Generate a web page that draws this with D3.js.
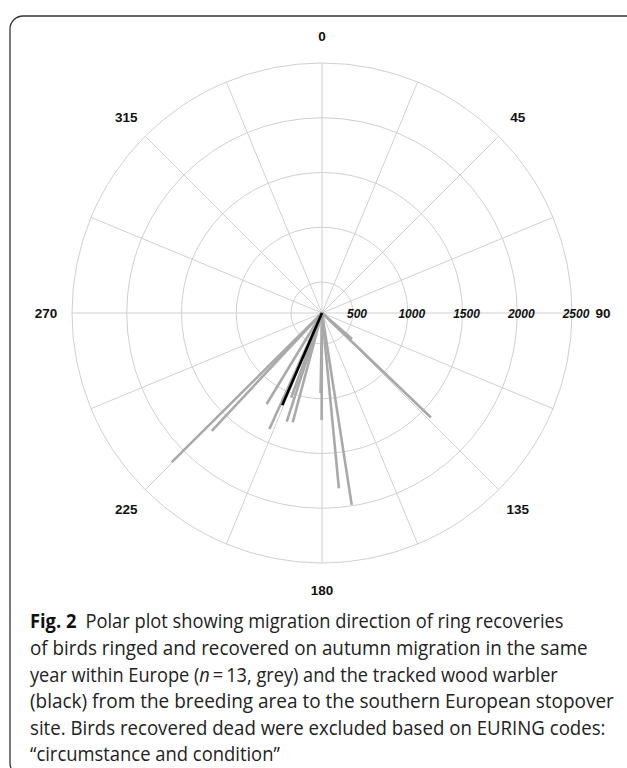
<!DOCTYPE html>
<html>
<head>
<meta charset="utf-8">
<script src="https://cdn.jsdelivr.net/npm/d3@7"></script>
<style>
  html, body { margin: 0; padding: 0; background: #fff; }
  svg { display: block; }
</style>
</head>
<body>
<svg id="chart" width="627" height="768"></svg>
<script>
// ring recoveries (grey): bearing in degrees, distance in km
const bearings  = [225.2, 223.1, 211.3, 204.4, 198, 195, 180.2, 181, 174.5, 171.2, 133.8, 131, 200];
const distances = [2150, 1690, 1190, 1380, 1260, 1250, 1195, 950, 1825, 1990, 1595, 580, 1040];
// tracked wood warbler (black)
const trackBearing = [203.3];
const trackDistance = [1135];

const ringTicks = [500, 1000, 1500, 2000, 2500];
const angleTicks = [0, 45, 90, 135, 180, 225, 270, 315];
const spokeAngles = d3.range(0, 360, 22.5);

const svg = d3.select("#chart");
const cx = 322, cy = 313;

// frame
svg.append("rect")
  .attr("x", 10).attr("y", 16)
  .attr("width", 640).attr("height", 760)
  .attr("rx", 13).attr("ry", 13)
  .attr("fill", "none")
  .attr("stroke", "#333")
  .attr("stroke-width", 1.3);

const r = d3.scaleLinear().domain([500, 2500]).range([31, 250]);
const ang = d3.scaleLinear().domain([0, 360]).range([0, 2 * Math.PI]);

const pt = (deg, rad) => [rad * Math.sin(ang(deg)), -rad * Math.cos(ang(deg))];

const g = svg.append("g").attr("transform", `translate(${cx},${cy})`);

// grid rings
g.selectAll("circle.ring")
  .data(ringTicks)
  .enter()
  .append("circle")
  .attr("class", "ring")
  .attr("r", d => r(d))
  .attr("fill", "none")
  .attr("stroke", "#d0d0d0")
  .attr("stroke-width", 1);

// spokes
g.selectAll("line.spoke")
  .data(spokeAngles)
  .enter()
  .append("line")
  .attr("class", "spoke")
  .attr("x1", 0).attr("y1", 0)
  .attr("x2", d => pt(d, r(2500))[0])
  .attr("y2", d => pt(d, r(2500))[1])
  .attr("stroke", "#d0d0d0")
  .attr("stroke-width", 1);

// recovery lines
const recs = bearings.map((b, i) => ({ b: b, d: distances[i] }));
g.selectAll("line.rec")
  .data(recs)
  .enter()
  .append("line")
  .attr("class", "rec")
  .attr("x1", 0).attr("y1", 0)
  .attr("x2", d => pt(d.b, r(d.d))[0])
  .attr("y2", d => pt(d.b, r(d.d))[1])
  .attr("stroke", "#a9a9a9")
  .attr("stroke-width", 2.6);

g.selectAll("line.track")
  .data(trackBearing.map((b, i) => ({ b: b, d: trackDistance[i] })))
  .enter()
  .append("line")
  .attr("class", "track")
  .attr("x1", 0).attr("y1", 0)
  .attr("x2", d => pt(d.b, r(d.d))[0])
  .attr("y2", d => pt(d.b, r(d.d))[1])
  .attr("stroke", "#000")
  .attr("stroke-width", 2.6);

// radial tick labels
g.selectAll("text.rtick")
  .data(ringTicks)
  .enter()
  .append("text")
  .attr("class", "rtick")
  .attr("x", d => r(d) + 4)
  .attr("y", 5)
  .attr("text-anchor", "middle")
  .attr("font-family", "Liberation Sans, Arial, sans-serif")
  .attr("font-size", "12px")
  .attr("font-weight", "bold")
  .attr("font-style", "italic")
  .attr("fill", "#111")
  .text(d => d);

// angle labels
g.selectAll("text.atick")
  .data(angleTicks)
  .enter()
  .append("text")
  .attr("class", "atick")
  .attr("x", d => pt(d, d === 90 ? 281 : d === 270 ? 276 : 277)[0])
  .attr("y", d => pt(d, 277)[1] + 5)
  .attr("text-anchor", "middle")
  .attr("font-family", "Liberation Sans, Arial, sans-serif")
  .attr("font-size", "13.5px")
  .attr("font-weight", "bold")
  .attr("fill", "#111")
  .text(d => d);

// caption: each line squeezed horizontally to the width seen in the figure
const lineY = [628, 655, 681.5, 708, 735, 761];
const lineW = [534, 558, 528, 584, 576, 250];

const cap = svg.append("g")
  .attr("font-family", "Open Sans, Noto Sans, sans-serif")
  .attr("font-size", "19.5px")
  .attr("fill", "#222");

function capLine(i) {
  return cap.append("g").attr("transform", `translate(30,${lineY[i]})`)
    .append("text").attr("x", 0).attr("y", 0);
}

const t0 = capLine(0);
t0.append("tspan").attr("font-weight", "bold").attr("fill", "#111").text("Fig. 2");
t0.append("tspan").text("\u2002Polar plot showing migration direction of ring recoveries");

capLine(1).text("of birds ringed and recovered on autumn migration in the same");

const t2 = capLine(2);
t2.append("tspan").text("year within Europe (");
t2.append("tspan").attr("font-style", "italic").text("n");
t2.append("tspan").text("\u2009=\u200913, grey) and the tracked wood warbler");

capLine(3).text("(black) from the breeding area to the southern European stopover");
capLine(4).text("site. Birds recovered dead were excluded based on EURING codes:");
capLine(5).text("\u201ccircumstance and condition\u201d");

cap.selectAll("g").each(function(d, i) {
  const t = d3.select(this).select("text").node();
  const w = t.getComputedTextLength();
  const sx = lineW[i] / w;
  d3.select(this).attr("transform", `translate(30,${lineY[i]}) scale(${sx},1)`);
});
</script>
</body>
</html>
